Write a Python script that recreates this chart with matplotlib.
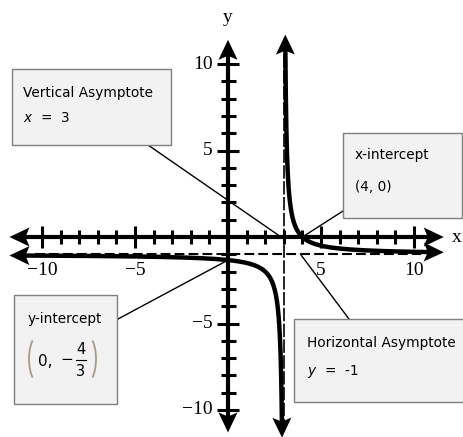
import numpy as np
import matplotlib.pyplot as plt
from matplotlib.patches import Polygon, Rectangle, Arc

plt.rcParams['mathtext.fontset'] = 'dejavusans'

# values
v_asym = 3            # vertical asymptote x = 3
h_asym = -1           # horizontal asymptote y = -1
x_int = (4, 0)
y_int = (0, -4 / 3)
ticks = [t for t in range(-10, 11) if t != 0]
major = [-10, -5, 5, 10]
tick_labels = ['−10', '−5', '5', '10']

# f(x) = a / (x - 3) - 1, a taken from the x-intercept
a = (x_int[1] - h_asym) * (x_int[0] - v_asym)


def f(x):
    return a / (x - v_asym) + h_asym


# pixel layout of the picture
W, H = 464, 437
X0, Y0, SX, SY = 228, 237, 18.6, 17.3


def d2p(x, y):
    return X0 + SX * x, Y0 - SY * y


def p2d(px, py):
    return (px - X0) / SX, (Y0 - py) / SY


fig = plt.figure(figsize=(W / 100, H / 100), dpi=100)
ax = fig.add_axes([0, 0, 1, 1])
ax.set_xlim(p2d(0, 0)[0], p2d(W, 0)[0])
ax.set_ylim(p2d(0, H)[1], p2d(0, 0)[1])
ax.axis('off')


def arrow_head(tip, back, L=20, w=9.5, notch=4):
    tx, ty = d2p(*tip)
    bx, by = d2p(*back)
    d = np.array([tx - bx, ty - by])
    d /= np.hypot(*d)
    n = np.array([-d[1], d[0]])
    t = np.array([tx, ty])
    pts = [t, t - L * d + w * n, t - (L - notch) * d, t - L * d - w * n]
    ax.add_patch(Polygon([p2d(*p) for p in pts], closed=True,
                         color='black', lw=0, zorder=6))


# axes
xl, xr = -11.75, 11.6
yb, yt = -11.3, 11.4
ax.plot([xl + 0.8, xr - 0.8], [0, 0], color='black', lw=3, zorder=4,
        solid_capstyle='butt')
ax.plot([0, 0], [yb + 0.9, yt - 0.9], color='black', lw=3, zorder=4,
        solid_capstyle='butt')
arrow_head((xr, 0), (0, 0))
arrow_head((xl, 0), (0, 0))
arrow_head((0, yt), (0, 0))
arrow_head((0, yb), (0, 0))

for t in ticks:
    hx = (11 if t in major else 7) / SY
    hy = (11 if t in major else 7.5) / SX
    ax.plot([t, t], [-hx, hx], color='black', lw=2.2, zorder=4,
            solid_capstyle='butt')
    ax.plot([-hy, hy], [t, t], color='black', lw=2.2, zorder=4,
            solid_capstyle='butt')

for t, lab in zip(major, tick_labels):
    ax.text(t, -25 / SY, lab, ha='center', va='top', fontsize=14,
            family='Liberation Serif')
    ax.text(-15 / SX, t, lab, ha='right', va='center', fontsize=14,
            family='Liberation Serif')

ax.text(0, p2d(0, 17)[1], 'y', ha='center', va='center', fontsize=14,
        family='Liberation Serif')
ax.text(p2d(457, 0)[0], 0, 'x', ha='center', va='center', fontsize=14,
        family='Liberation Serif')

# asymptotes
ax.plot([-10.4, 10.4], [h_asym, h_asym], color='black', lw=1.5,
        dashes=(4.7, 2), zorder=3)
ax.plot([v_asym, v_asym], [-11.3, 11.5], color='black', lw=1.2,
        dashes=(8, 1.5), zorder=3)

# curve
u = np.geomspace(1 / 12.1, 11.05 - v_asym, 500)
xr_b = v_asym + u
ax.plot(xr_b, f(xr_b), color='black', lw=3.2, zorder=5)
tip_top = (v_asym + 1 / 12.7, 11.7)
arrow_head(tip_top, (xr_b[0], f(xr_b[0])))
arrow_head((11.6, f(11.6)), (xr_b[-1], f(xr_b[-1])))

u = np.geomspace(v_asym + 11.2, 1 / 9.9, 500)
xl_b = v_asym - u
ax.plot(xl_b, f(xl_b), color='black', lw=3.2, zorder=5)
arrow_head((-11.75, f(-11.75)), (xl_b[0], f(xl_b[0])))
arrow_head((v_asym - 1 / 10.6, -11.6), (xl_b[-1], f(xl_b[-1])))


# callout boxes
def box(x0, y0, x1, y1):
    ax.add_patch(Rectangle(p2d(x0, y1), (x1 - x0) / SX, (y1 - y0) / SY,
                           facecolor='#f2f2f2', edgecolor='#7f7f7f', lw=1,
                           zorder=7))


def leader(p, target):
    x, y = p2d(*p)
    ax.plot([x, target[0]], [y, target[1]], color='black', lw=1, zorder=2)


def label(px, py, s, size=9.8, ha='left'):
    x, y = p2d(px, py)
    ax.text(x, y, s, ha=ha, va='center', fontsize=size, zorder=8)


box(12, 69, 171, 145)
label(23, 93, 'Vertical Asymptote')
label(23, 118, r'$x$  =  3')
leader((148, 145), (2.85, 0))

box(343, 133, 462, 218)
label(355, 155, 'x-intercept')
label(355, 187, '(4, 0)')
leader((343, 211), x_int)

box(14, 295, 117, 404)
label(28, 319, 'y-intercept')
label(38, 361, '0,', size=11)
label(60, 360, '−', size=11)
label(80.5, 349, '4', size=10.5, ha='center')
label(80.5, 371, '3', size=10.5, ha='center')
bx0, by0 = p2d(75.5, 360)
bx1, _ = p2d(85.5, 360)
ax.plot([bx0, bx1], [by0, by0], color='black', lw=0.8, zorder=8)
# tall parentheses around the fraction
for cx, t1, t2 in [(41, 113, 247), (84, -67, 67)]:
    c = p2d(cx, 359)
    ax.add_patch(Arc(c, 24 / SX, 52 / SY, theta1=t1, theta2=t2,
                     color='#a89b84', lw=1.3, zorder=8))
leader((118, 319), y_int)

box(294, 319, 470, 402)
label(307, 343, 'Horizontal Asymptote')
label(307, 372, r'$y$  =  -1')
leader((349, 319), (3.9, h_asym))

fig.savefig('out.png', dpi=100)
